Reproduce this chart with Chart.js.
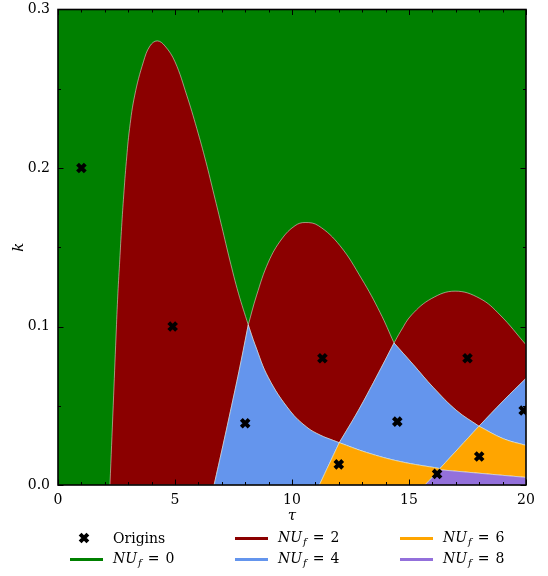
<!DOCTYPE html>
<html>
<head>
<meta charset="utf-8">
<script src="https://cdn.jsdelivr.net/npm/chart.js@4.4.1/dist/chart.umd.min.js"></script>
<style>
  body { margin: 0; background: #fff; }
  .wrapper { position: relative; width: 548px; height: 576px; }
  #legend { font-family: "DejaVu Serif", serif; font-size: 14px; color: #000; }
  #legend .item { position: absolute; height: 20px; display: flex; align-items: center; white-space: nowrap; }
  #legend .swatch { width: 33px; height: 3px; margin-right: 10px; }
  #legend canvas { margin-right: 10px; }
  #legend sub { font-size: 10px; vertical-align: -3px; margin-left: 1px; }
  #legend .eq { margin: 0 6px; }
</style>
</head>
<body>
<div class="wrapper">
  <canvas id="phaseChart" width="548" height="576"></canvas>
  <div id="legend"></div>
</div>
<script>
const xTicks = [0, 5, 10, 15, 20];
const yTicks = [0, 0.1, 0.2, 0.3];

const nuLabels = ["0", "2", "4", "6", "8"];
const nuColors = ["#008000", "#8b0000", "#6495ed", "#ffa500", "#9370db"];

// origins
const originTau = [1.0, 4.9, 8.0, 11.3, 14.5, 17.5, 19.9, 12.0, 16.2, 18.0];
const originK = [0.2, 0.1, 0.039, 0.08, 0.04, 0.08, 0.047, 0.013, 0.007, 0.018];

// region edges, [tau, k]
const lobe1Up = [[2.22, 0], [2.36, 0.05], [2.48, 0.094], [2.56, 0.121], [2.64, 0.142], [2.72, 0.163], [2.81, 0.183], [2.92, 0.204], [3.06, 0.225], [3.28, 0.246], [3.65, 0.267], [3.93, 0.277], [4.24, 0.2802], [4.57, 0.277], [5.0, 0.267], [5.5, 0.246], [5.93, 0.225], [6.32, 0.204], [6.67, 0.183], [7.0, 0.163], [7.34, 0.142], [7.71, 0.121], [8.13, 0.101]];
const lobe1Down = [[8.13, 0.101], [7.78, 0.075], [7.42, 0.05], [7.05, 0.025], [6.67, 0]];
const lobe2Up = [[8.13, 0.101], [8.49, 0.1198], [8.99, 0.1406], [9.56, 0.1552], [10.13, 0.1636], [10.56, 0.1656], [11.13, 0.1636], [12.05, 0.151], [12.98, 0.13], [13.76, 0.109], [14.36, 0.0896]];
const lobe2Low = [[8.13, 0.101], [8.42, 0.0885], [8.99, 0.0677], [9.91, 0.0469], [10.63, 0.0365], [11.2, 0.0315], [11.77, 0.0281], [12.02, 0.0267]];
const lobe2Right = [[12.02, 0.0267], [12.83, 0.0469], [13.59, 0.0677], [14.36, 0.0896]];
const lobe3Up = [[14.36, 0.0896], [14.64, 0.0969], [15.11, 0.1073], [15.97, 0.1177], [16.97, 0.1223], [18.03, 0.1177], [18.89, 0.1073], [20, 0.0885]];
const lobe3Low = [[14.36, 0.0896], [15.18, 0.076], [16.04, 0.0615], [17.04, 0.0469], [17.99, 0.0371]];
const lobe3Right = [[17.99, 0.0371], [19.03, 0.0531], [20, 0.0673]];
const edge46a = [[11.17, 0], [12.02, 0.0267]];
const edge46b = [[12.02, 0.0267], [13.19, 0.0205], [14.62, 0.0148], [16.32, 0.0104]];
const edge46c = [[16.32, 0.0104], [17.99, 0.0371]];
const edge46d = [[17.99, 0.0371], [19.03, 0.0292], [20, 0.025]];
const edge68side = [[15.68, 0], [16.32, 0.0096]];
const edge68top = [[16.32, 0.0096], [20, 0.0048]];

const rev = (a) => a.slice().reverse();
// edges are joined end to start, so every corner appears twice and stays sharp under tension
const poly = (...parts) => parts.flat().map(([x, y]) => ({ x, y }));
const join = (polys) => polys.flatMap((p, i) => (i ? [{ x: null, y: null }, ...p] : p));

const regions = [
  [poly([[0, 0], [20, 0]], [[20, 0], [20, 0.3]], [[20, 0.3], [0, 0.3]], [[0, 0.3], [0, 0]])],
  [
    poly(lobe1Up, lobe1Down, [[6.67, 0], [2.22, 0]]),
    poly(lobe2Up, rev(lobe2Right), rev(lobe2Low)),
    poly(lobe3Up, [[20, 0.0885], [20, 0.0673]], rev(lobe3Right), rev(lobe3Low)),
  ],
  [
    poly(rev(lobe1Down), lobe2Low, rev(edge46a), [[11.17, 0], [6.67, 0]]),
    poly(lobe2Right, lobe3Low, rev(edge46c), rev(edge46b)),
    poly(lobe3Right, [[20, 0.0673], [20, 0.025]], rev(edge46d)),
  ],
  [
    poly(edge46a, edge46b, [[16.32, 0.0104], [15.68, 0]], [[15.68, 0], [11.17, 0]]),
    poly(edge46c, edge46d, [[20, 0.025], [20, 0.0048]], rev(edge68top), [[16.32, 0.0096], [16.32, 0.0104]]),
  ],
  [poly(edge68side, edge68top, [[20, 0.0048], [20, 0]], [[20, 0], [15.68, 0]])],
];

const serif = "DejaVu Serif";

const frame = {
  id: "frame",
  afterDatasetsDraw(chart) {
    const { ctx, chartArea: a, scales: { x, y } } = chart;
    ctx.save();
    ctx.strokeStyle = "#000";
    ctx.lineWidth = 1;
    const tick = (x1, y1, x2, y2) => {
      ctx.beginPath();
      ctx.moveTo(x1, y1);
      ctx.lineTo(x2, y2);
      ctx.stroke();
    };
    for (let t = 0; t <= 20; t++) {
      const px = Math.round(x.getPixelForValue(t)) + 0.5;
      const len = t % 5 ? 3 : 5.5;
      tick(px, a.bottom, px, a.bottom - len);
      tick(px, a.top, px, a.top + len);
    }
    for (let i = 0; i <= 6; i++) {
      const py = Math.round(y.getPixelForValue(i * 0.05)) + 0.5;
      const len = i % 2 ? 3 : 5.5;
      tick(a.left, py, a.left + len, py);
      tick(a.right, py, a.right - len, py);
    }
    ctx.lineWidth = 1.6;
    ctx.strokeRect(a.left, a.top, a.right - a.left, a.bottom - a.top);
    ctx.restore();
  },
};

const htmlLegend = {
  id: "htmlLegend",
  afterUpdate(chart) {
    const box = document.getElementById("legend");
    box.innerHTML = "";
    const items = chart.options.plugins.legend.labels
      .generateLabels(chart)
      .sort((a, b) => a.datasetIndex - b.datasetIndex);
    const colLeft = [70, 235, 400];
    const rowMid = [538, 559];
    items.forEach((item, j) => {
      const div = document.createElement("div");
      div.className = "item";
      div.style.left = colLeft[Math.floor(j / 2)] + "px";
      div.style.top = rowMid[j % 2] - 10 + "px";
      if (j === 0) {
        const c = document.createElement("canvas");
        c.width = 33;
        c.height = 20;
        const cx = c.getContext("2d");
        cx.strokeStyle = "#000";
        cx.lineWidth = 4;
        Chart.helpers.drawPoint(cx, { pointStyle: "crossRot", radius: 5.5, borderWidth: 4, rotation: 0 }, 14, 10);
        div.appendChild(c);
      } else {
        const sw = document.createElement("span");
        sw.className = "swatch";
        sw.style.background = item.fillStyle;
        div.appendChild(sw);
      }
      const txt = document.createElement("span");
      txt.innerHTML = item.text.replace(/NU_f = (\d)/, '<i>NU<sub>f</sub></i><span class="eq">=</span>$1');
      div.appendChild(txt);
      box.appendChild(div);
    });
  },
};

const ctx = document.getElementById("phaseChart").getContext("2d");
const phaseChart = new Chart(ctx, {
  type: "line",
  data: {
    datasets: [
      {
        type: "scatter",
        label: "Origins",
        data: originTau.map((t, i) => ({ x: t, y: originK[i] })),
        pointStyle: "crossRot",
        pointRadius: 5.5,
        pointBorderWidth: 4,
        borderColor: "#000",
        backgroundColor: "#000",
        order: 0,
      },
      ...regions.map((polys, i) => ({
        label: "NU_f = " + nuLabels[i],
        data: join(polys),
        fill: "shape",
        backgroundColor: nuColors[i],
        borderColor: i ? "rgba(255,255,255,0.6)" : nuColors[i],
        borderWidth: i ? 0.8 : 0,
        pointRadius: 0,
        tension: 0.4,
        order: 10 - i,
      })),
    ],
  },
  options: {
    responsive: false,
    animation: false,
    devicePixelRatio: 1,
    events: [],
    layout: { padding: { left: 0, right: 22, top: 5, bottom: 51 } },
    plugins: {
      legend: { display: false },
      tooltip: { enabled: false },
    },
    scales: {
      x: {
        type: "linear",
        min: 0,
        max: 20,
        afterBuildTicks: (s) => {
          s.ticks = xTicks.map((v) => ({ value: v }));
        },
        afterFit: (s) => {
          s.height = 40;
          s.paddingLeft = 0;
          s.paddingRight = 0;
        },
        grid: { display: false, drawTicks: false },
        border: { display: false },
        ticks: { padding: 7, color: "#000", font: { family: serif, size: 14 }, maxRotation: 0, autoSkip: false },
        title: { display: true, text: "τ", color: "#000", font: { family: serif, size: 15, style: "italic" }, padding: { top: 0, bottom: 0 } },
      },
      y: {
        type: "linear",
        min: 0,
        max: 0.3,
        afterBuildTicks: (s) => {
          s.ticks = yTicks.map((v) => ({ value: v }));
        },
        afterFit: (s) => {
          s.width = 58;
          s.paddingTop = 0;
          s.paddingBottom = 0;
        },
        grid: { display: false, drawTicks: false },
        border: { display: false },
        ticks: { padding: 8, color: "#000", font: { family: serif, size: 14 }, callback: (v) => v.toFixed(1) },
        title: { display: true, text: "k", color: "#000", font: { family: serif, size: 15, style: "italic" }, padding: { top: 10, bottom: 0 } },
      },
    },
  },
  plugins: [frame, htmlLegend],
});
</script>
</body>
</html>
